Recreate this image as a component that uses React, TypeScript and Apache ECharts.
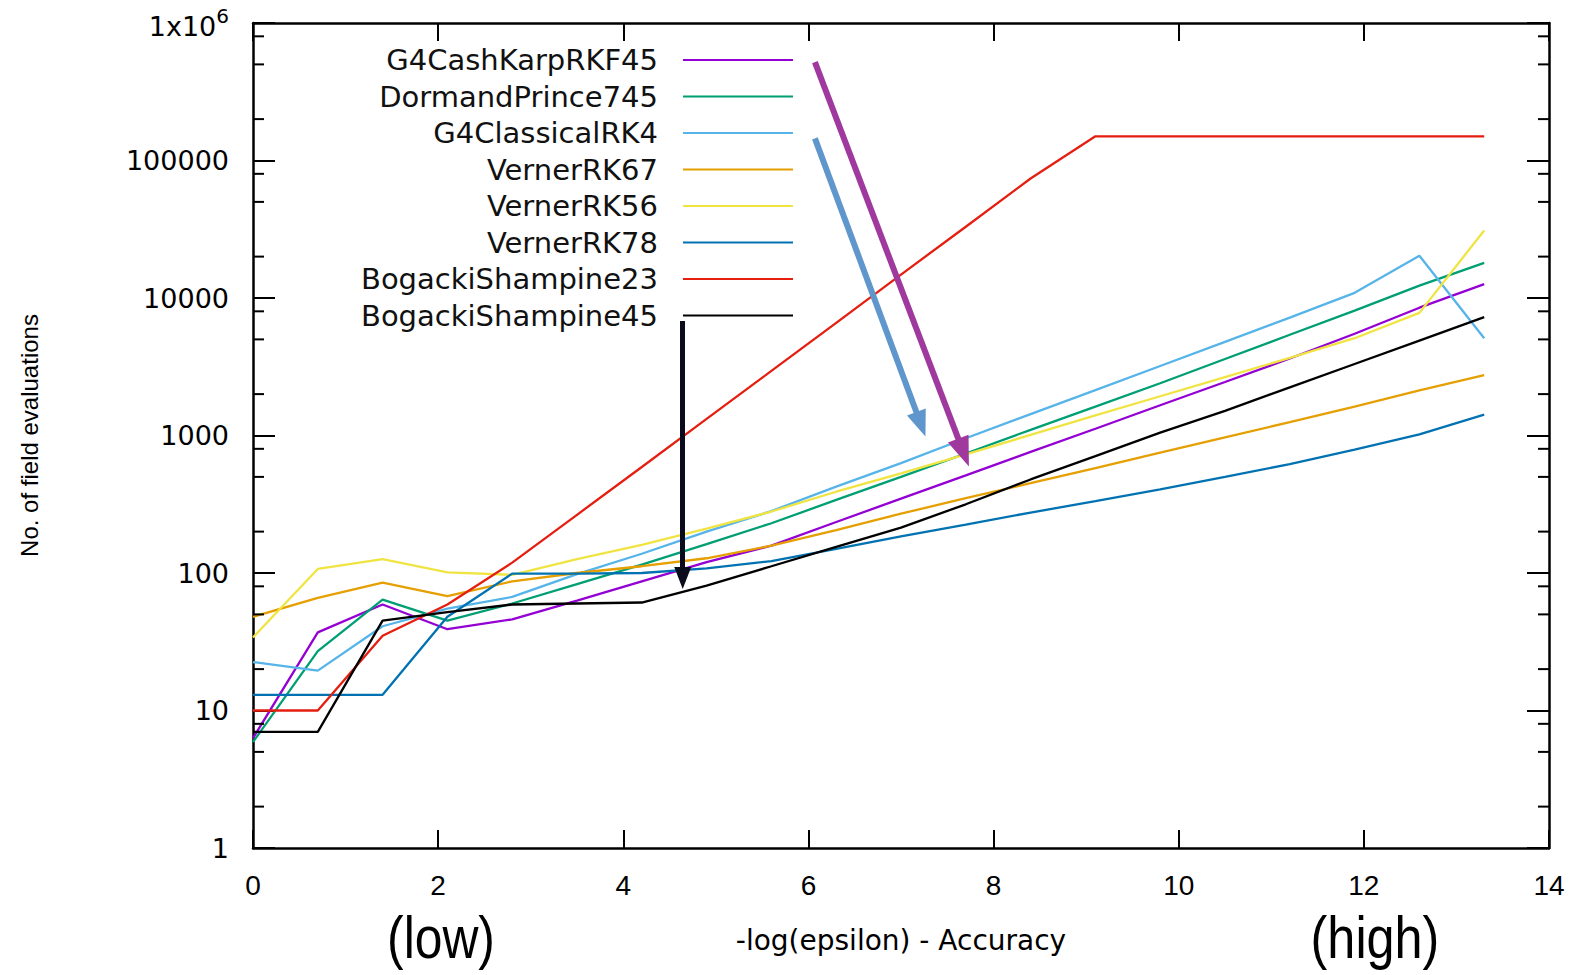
import React, { useEffect, useRef } from "react";
import * as echarts from "echarts";

// x positions: -log(epsilon)
const xValues = [0, 0.7, 1.4, 2.1, 2.8, 3.5, 4.2, 4.9, 5.6, 6.3, 7.0, 7.7, 8.4, 9.1, 9.8, 10.5, 11.2, 11.9, 12.6, 13.3];

const seriesNames = [
  "G4CashKarpRKF45",
  "DormandPrince745",
  "G4ClassicalRK4",
  "VernerRK67",
  "VernerRK56",
  "VernerRK78",
  "BogackiShampine23",
  "BogackiShampine45",
];

const seriesColors = ["#9400d3", "#009e73", "#56b4e9", "#e69f00", "#f0e442", "#0072b2", "#e51e10", "#000000"];

const cashKarp = [6.3, 37, 59, 39, 46, 63, 87, 120, 158, 235, 347, 513, 760, 1120, 1660, 2450, 3630, 5500, 8500, 12600];
const dormandPrince = [5.9, 27, 64, 45, 60, 83, 115, 162, 230, 340, 500, 740, 1100, 1620, 2400, 3600, 5400, 8100, 12300, 18000];
const classicalRK4 = [22.5, 19.5, 41, 55, 67, 98, 138, 200, 282, 425, 630, 955, 1430, 2140, 3200, 4800, 7200, 10900, 20300, 5100];
const vernerRK67 = [48, 66, 85, 68, 87, 100, 112, 128, 158, 205, 270, 350, 450, 580, 750, 970, 1250, 1620, 2130, 2750];
const vernerRK56 = [34, 107, 126, 101, 97, 126, 160, 210, 280, 390, 530, 730, 1010, 1400, 1930, 2660, 3670, 5100, 7800, 31000];
const vernerRK78 = [13, 13, 13, 48, 99, 99, 100, 108, 122, 150, 185, 225, 275, 333, 405, 500, 620, 790, 1020, 1420];
const bogacki23 = [10, 10, 35, 59, 119, 265, 590, 1320, 2950, 6600, 14800, 33000, 74000, 150000, 150000, 150000, 150000, 150000, 150000, 150000];
const bogacki45 = [7, 7, 45, 52, 59, 60, 61, 81, 112, 155, 214, 316, 479, 708, 1050, 1510, 2240, 3310, 4900, 7250];

const seriesValues = [cashKarp, dormandPrince, classicalRK4, vernerRK67, vernerRK56, vernerRK78, bogacki23, bogacki45];

// y-axis minor tick values (2, 5, 8 per decade)
const yMinorTicks = [2, 5, 8, 20, 50, 80, 200, 500, 800, 2000, 5000, 8000, 20000, 50000, 80000, 200000, 500000, 800000];

// annotation arrows in data units: [x1, y1, x2, y2]
const purpleArrow = [6.07, 519000, 7.676, 751];
const blueArrow = [6.07, 144800, 7.215, 1208];
const blackArrow = [4.642, 6790, 4.642, 92];

const NARROW = "'Liberation Sans', Arial, sans-serif";
const WIDE = "'DejaVu Sans', sans-serif";

export default function App() {
  const ref = useRef<HTMLDivElement>(null);

  useEffect(() => {
    if (!ref.current) return;
    const chart = echarts.init(ref.current, undefined, { renderer: "svg" });

    const lineSeries = seriesNames.map((name, i) => ({
      name,
      type: "line",
      xAxisIndex: 0,
      yAxisIndex: 0,
      data: xValues.map((x, j) => [x, seriesValues[i][j]]),
      symbol: "none",
      showSymbol: false,
      lineStyle: { color: seriesColors[i], width: 2.3 },
      itemStyle: { color: seriesColors[i] },
      z: 3,
    }));

    const arrowItem = (a: number[], color: string, width: number, head: number[]) => [
      {
        coord: [a[0], a[1]],
        lineStyle: { color, width, type: "solid" },
        symbolSize: head,
      },
      { coord: [a[2], a[3]], symbolSize: head },
    ];

    const option: any = {
      animation: false,
      backgroundColor: "#ffffff",
      grid: { left: 253, right: 25, top: 23, bottom: 127, containLabel: false },
      legend: {
        data: seriesNames,
        orient: "vertical",
        align: "right",
        right: 781,
        top: 45,
        padding: 0,
        icon: "rect",
        itemWidth: 110,
        itemHeight: 2,
        itemGap: 6.5,
        textStyle: { fontFamily: WIDE, fontSize: 29, color: "#111", lineHeight: 30, padding: [0, 20, 0, 0] },
        selectedMode: false,
      },
      xAxis: [
        {
          type: "value",
          min: 0,
          max: 14,
          interval: 2,
          position: "bottom",
          axisLine: { show: true, onZero: false, lineStyle: { color: "#000", width: 2.5 } },
          axisTick: { show: true, inside: true, length: 18, lineStyle: { color: "#000", width: 2 } },
          axisLabel: { margin: 23, fontFamily: NARROW, fontSize: 28, color: "#000" },
          splitLine: { show: false },
          name: "-log(epsilon) - Accuracy",
          nameLocation: "middle",
          nameGap: 78,
          nameTextStyle: { fontFamily: WIDE, fontSize: 28, color: "#000" },
        },
        {
          type: "value",
          min: 0,
          max: 14,
          interval: 2,
          position: "top",
          axisLine: { show: true, onZero: false, lineStyle: { color: "#000", width: 2.5 } },
          axisTick: { show: true, inside: true, length: 18, lineStyle: { color: "#000", width: 2 } },
          axisLabel: { show: false },
          splitLine: { show: false },
        },
      ],
      yAxis: [
        {
          type: "log",
          logBase: 10,
          min: 1,
          max: 1000000,
          splitNumber: 6,
          position: "left",
          axisLine: { show: true, onZero: false, lineStyle: { color: "#000", width: 2.5 } },
          axisTick: { show: true, inside: true, length: 22, lineStyle: { color: "#000", width: 2 } },
          axisLabel: {
            margin: 24,
            fontFamily: WIDE,
            fontSize: 27,
            color: "#000",
            formatter: (v: number) => (v >= 999999 ? "{b|1x10}{s|6}" : String(Math.round(v))),
            rich: {
              b: { fontFamily: WIDE, fontSize: 27, color: "#000", verticalAlign: "bottom" },
              s: { fontFamily: WIDE, fontSize: 20, color: "#000", verticalAlign: "bottom", padding: [0, 0, 14, 0] },
            },
          },
          splitLine: { show: false },
          name: "No. of field evaluations",
          nameLocation: "middle",
          nameRotate: 90,
          nameGap: 212,
          nameTextStyle: { fontFamily: NARROW, fontSize: 24, color: "#000" },
        },
        {
          type: "log",
          logBase: 10,
          min: 1,
          max: 1000000,
          splitNumber: 6,
          position: "right",
          axisLine: { show: true, onZero: false, lineStyle: { color: "#000", width: 2.5 } },
          axisTick: { show: true, inside: true, length: 22, lineStyle: { color: "#000", width: 2 } },
          axisLabel: { show: false },
          splitLine: { show: false },
        },
      ],
      series: [
        ...lineSeries,
        {
          name: "minorTicks",
          type: "custom",
          xAxisIndex: 0,
          yAxisIndex: 0,
          silent: true,
          clip: false,
          z: 5,
          data: yMinorTicks.map((v) => [0, v]),
          renderItem: (_params: any, api: any) => {
            const v = api.value(1);
            const l = api.coord([0, v]);
            const r = api.coord([14, v]);
            return {
              type: "group",
              children: [
                { type: "line", shape: { x1: l[0], y1: l[1], x2: l[0] + 11, y2: l[1] }, style: { stroke: "#000", lineWidth: 2 } },
                { type: "line", shape: { x1: r[0] - 11, y1: r[1], x2: r[0], y2: r[1] }, style: { stroke: "#000", lineWidth: 2 } },
              ],
            };
          },
        },
        {
          name: "annotations",
          type: "line",
          xAxisIndex: 0,
          yAxisIndex: 0,
          data: [],
          z: 6,
          markLine: {
            silent: true,
            animation: false,
            symbol: ["none", "triangle"],
            label: { show: false },
            emphasis: { disabled: true },
            data: [
              arrowItem(purpleArrow, "#a0399e", 6, [22, 30]),
              arrowItem(blueArrow, "#5f96cb", 6, [20, 26]),
              arrowItem(blackArrow, "#0b0b1e", 5, [17, 22]),
            ],
          },
        },
      ],
      graphic: [
        {
          type: "text",
          x: 441,
          y: 937,
          scaleX: 0.83,
          style: { text: "(low)", fontFamily: NARROW, fontSize: 60, fill: "#000", align: "center", verticalAlign: "middle" },
        },
        {
          type: "text",
          x: 1375,
          y: 937,
          scaleX: 0.84,
          style: { text: "(high)", fontFamily: NARROW, fontSize: 60, fill: "#000", align: "center", verticalAlign: "middle" },
        },
      ],
    };

    chart.setOption(option);
    return () => chart.dispose();
  }, []);

  return (
    <div
      ref={ref}
      style={{ position: "fixed", left: 0, top: 0, width: 1574, height: 975, background: "#fff" }}
    />
  );
}
